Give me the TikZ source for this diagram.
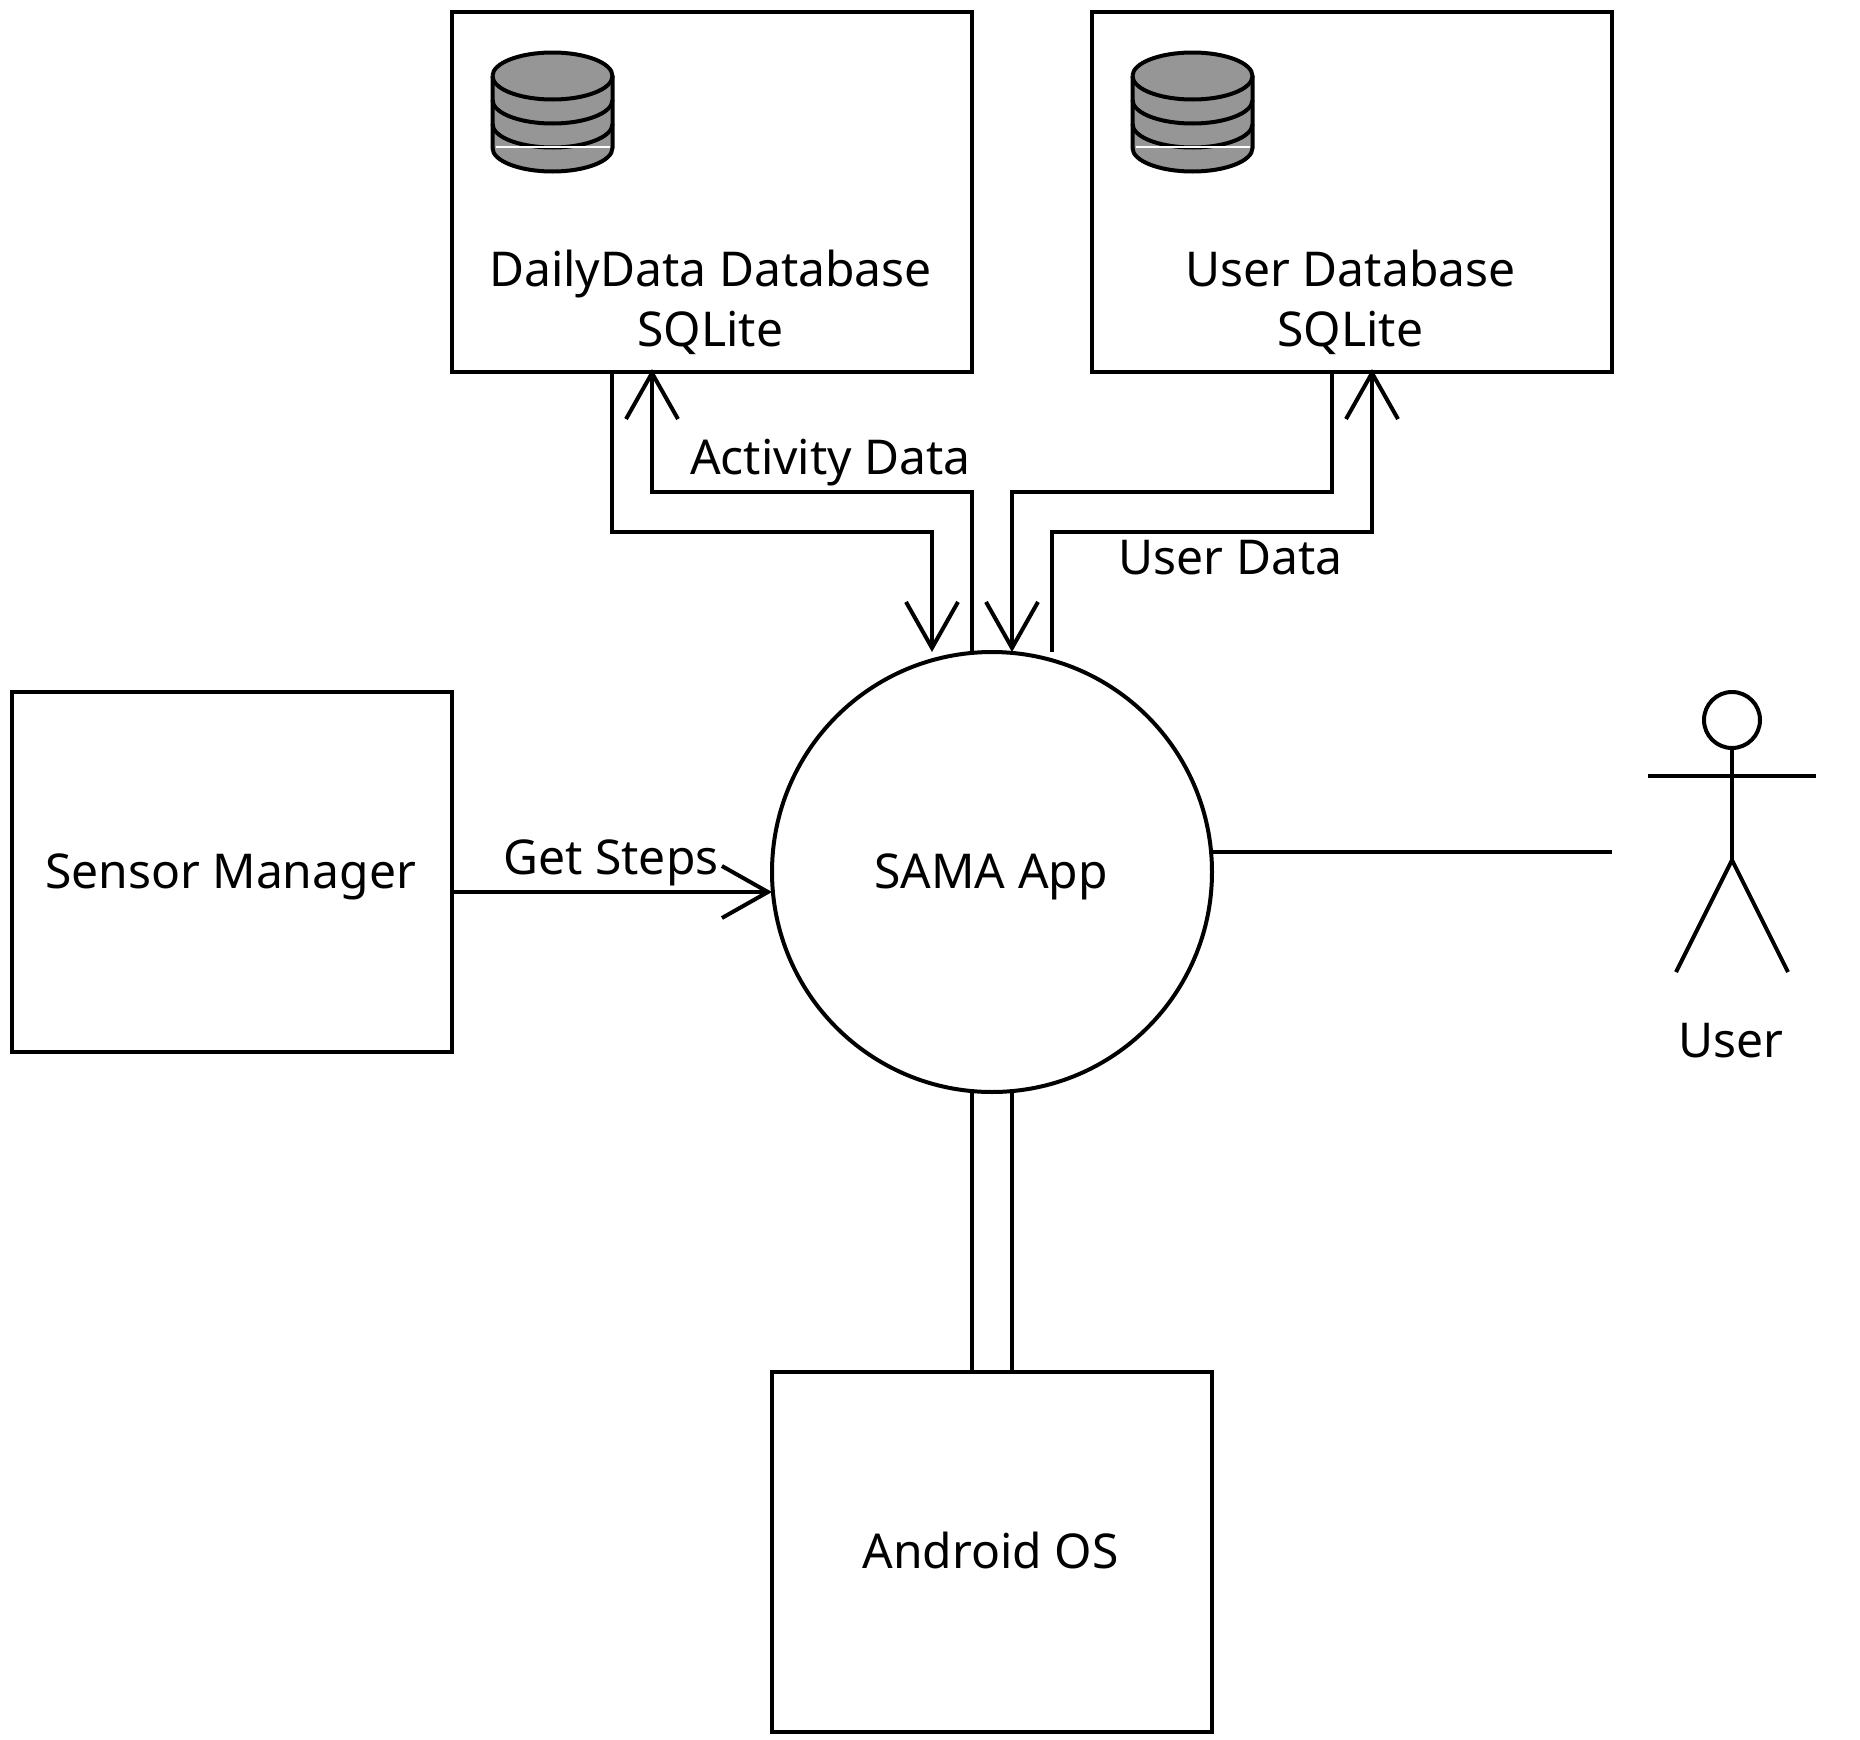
\documentclass[tikz,border=0pt]{standalone}
\usepackage{fontspec}
\setmainfont{Noto Sans}
\usetikzlibrary{arrows.meta}
\definecolor{dbgray}{HTML}{969696}
\tikzset{
  box/.style={draw=black,line width=2pt,rectangle,inner sep=0pt,outer sep=0pt,fill=white},
  bubble/.style={draw=black,line width=2pt,circle,inner sep=0pt,outer sep=0pt,fill=white,
    minimum size=220pt},
  caption/.style={inner sep=0pt,outer sep=0pt,anchor=base,align=center},
  link/.style={draw=black,line width=2pt},
  flow/.style={link,-{Straight Barb[length=23pt,width=26pt]}},
  dbline/.style={draw=black,line width=2pt},
}
\newcommand{\dbicon}[1]{%
  \begin{scope}[shift={(#1,0)}]
    \fill[dbgray] (0,76) arc[start angle=180,end angle=360,x radius=60,y radius=23.5]
      -- (120,148) arc[start angle=0,end angle=180,x radius=60,y radius=23.5] -- cycle;
    \draw[dbline] (0,76) arc[start angle=180,end angle=-180,x radius=60,y radius=23.5];
    \draw[dbline] (0,100) arc[start angle=180,end angle=0,x radius=60,y radius=23.5];
    \draw[dbline] (0,124) arc[start angle=180,end angle=0,x radius=60,y radius=23.5];
    \draw[dbline] (0,76) -- (0,148) arc[start angle=180,end angle=0,x radius=60,y radius=23.5] -- (120,76);
    \draw[white,line width=0.8pt] (3,147) -- (117,147);
  \end{scope}}
\begin{document}
\begin{tikzpicture}[x=0.5pt,y=-0.5pt,font=\fontsize{24pt}{30pt}\selectfont]
\useasboundingbox[fill=white] (0,0) rectangle (1860,1740);

% boxes
\node[box,minimum width=260pt,minimum height=180pt] (dbA) at (712,192) {};
\node[box,minimum width=260pt,minimum height=180pt] (dbB) at (1352,192) {};
\node[box,minimum width=220pt,minimum height=180pt] (sensor) at (232,872) {};
\node[box,minimum width=220pt,minimum height=180pt] (android) at (992,1552) {};
\node[bubble] (app) at (992,872) {};

% text of the boxes
\node[caption] (sensorText) at (230.5,888) {Sensor Manager};
\node[caption] (appText) at (991,888) {SAMA App};
\node[caption] (androidText) at (990.5,1568) {Android OS};

% database icons
\dbicon{492.5}
\dbicon{1132.5}

% database captions
\node[caption] (dbAtext) at (710.5,346) {DailyData Database\\SQLite};
\node[caption] (dbBtext) at (1350.5,346) {User Database\\SQLite};

% connectors between the app and the databases
\draw[flow] (612,0 |- dbA.south) -- (612,532) -- (932,532) -- (932,0 |- app.north);
\draw[flow,shorten >=-1.5pt] (972,0 |- app.north) -- (972,492) -- (652,492) -- (652,0 |- dbA.south);
\draw[flow] (1332,0 |- dbB.south) -- (1332,492) -- (1012,492) -- (1012,0 |- app.north);
\draw[flow,shorten >=-1.5pt] (1052,0 |- app.north) -- (1052,532) -- (1372,532) -- (1372,0 |- dbB.south);

% sensor and OS connectors
\draw[flow] (sensor.east |- 0,892) -- (app.west |- 0,892);
\draw[link] (972,0 |- app.south) -- (972,0 |- android.north);
\draw[link] (1012,0 |- app.south) -- (1012,0 |- android.north);

% actor
\coordinate (actorEnd) at (1612,852);
\draw[link] (app.east |- actorEnd) -- (actorEnd);
\node[draw=black,line width=2pt,circle,minimum size=28pt,inner sep=0pt,outer sep=0pt] (head) at (1732,720) {};
\coordinate (hip) at (1732,860);
\draw[link] (head.south) -- (hip);
\draw[link] (1648,776) -- (1816,776);
\draw[link] (1676,972) -- (hip) -- (1788,972);

% labels
\node[caption] (lActivity) at (830.5,474) {Activity Data};
\node[caption] (lUserData) at (1230.5,574) {User Data};
\node[caption] (lSteps) at (611,874) {Get Steps};
\node[caption] (lUser) at (1731,1057) {User};
\end{tikzpicture}
\end{document}
